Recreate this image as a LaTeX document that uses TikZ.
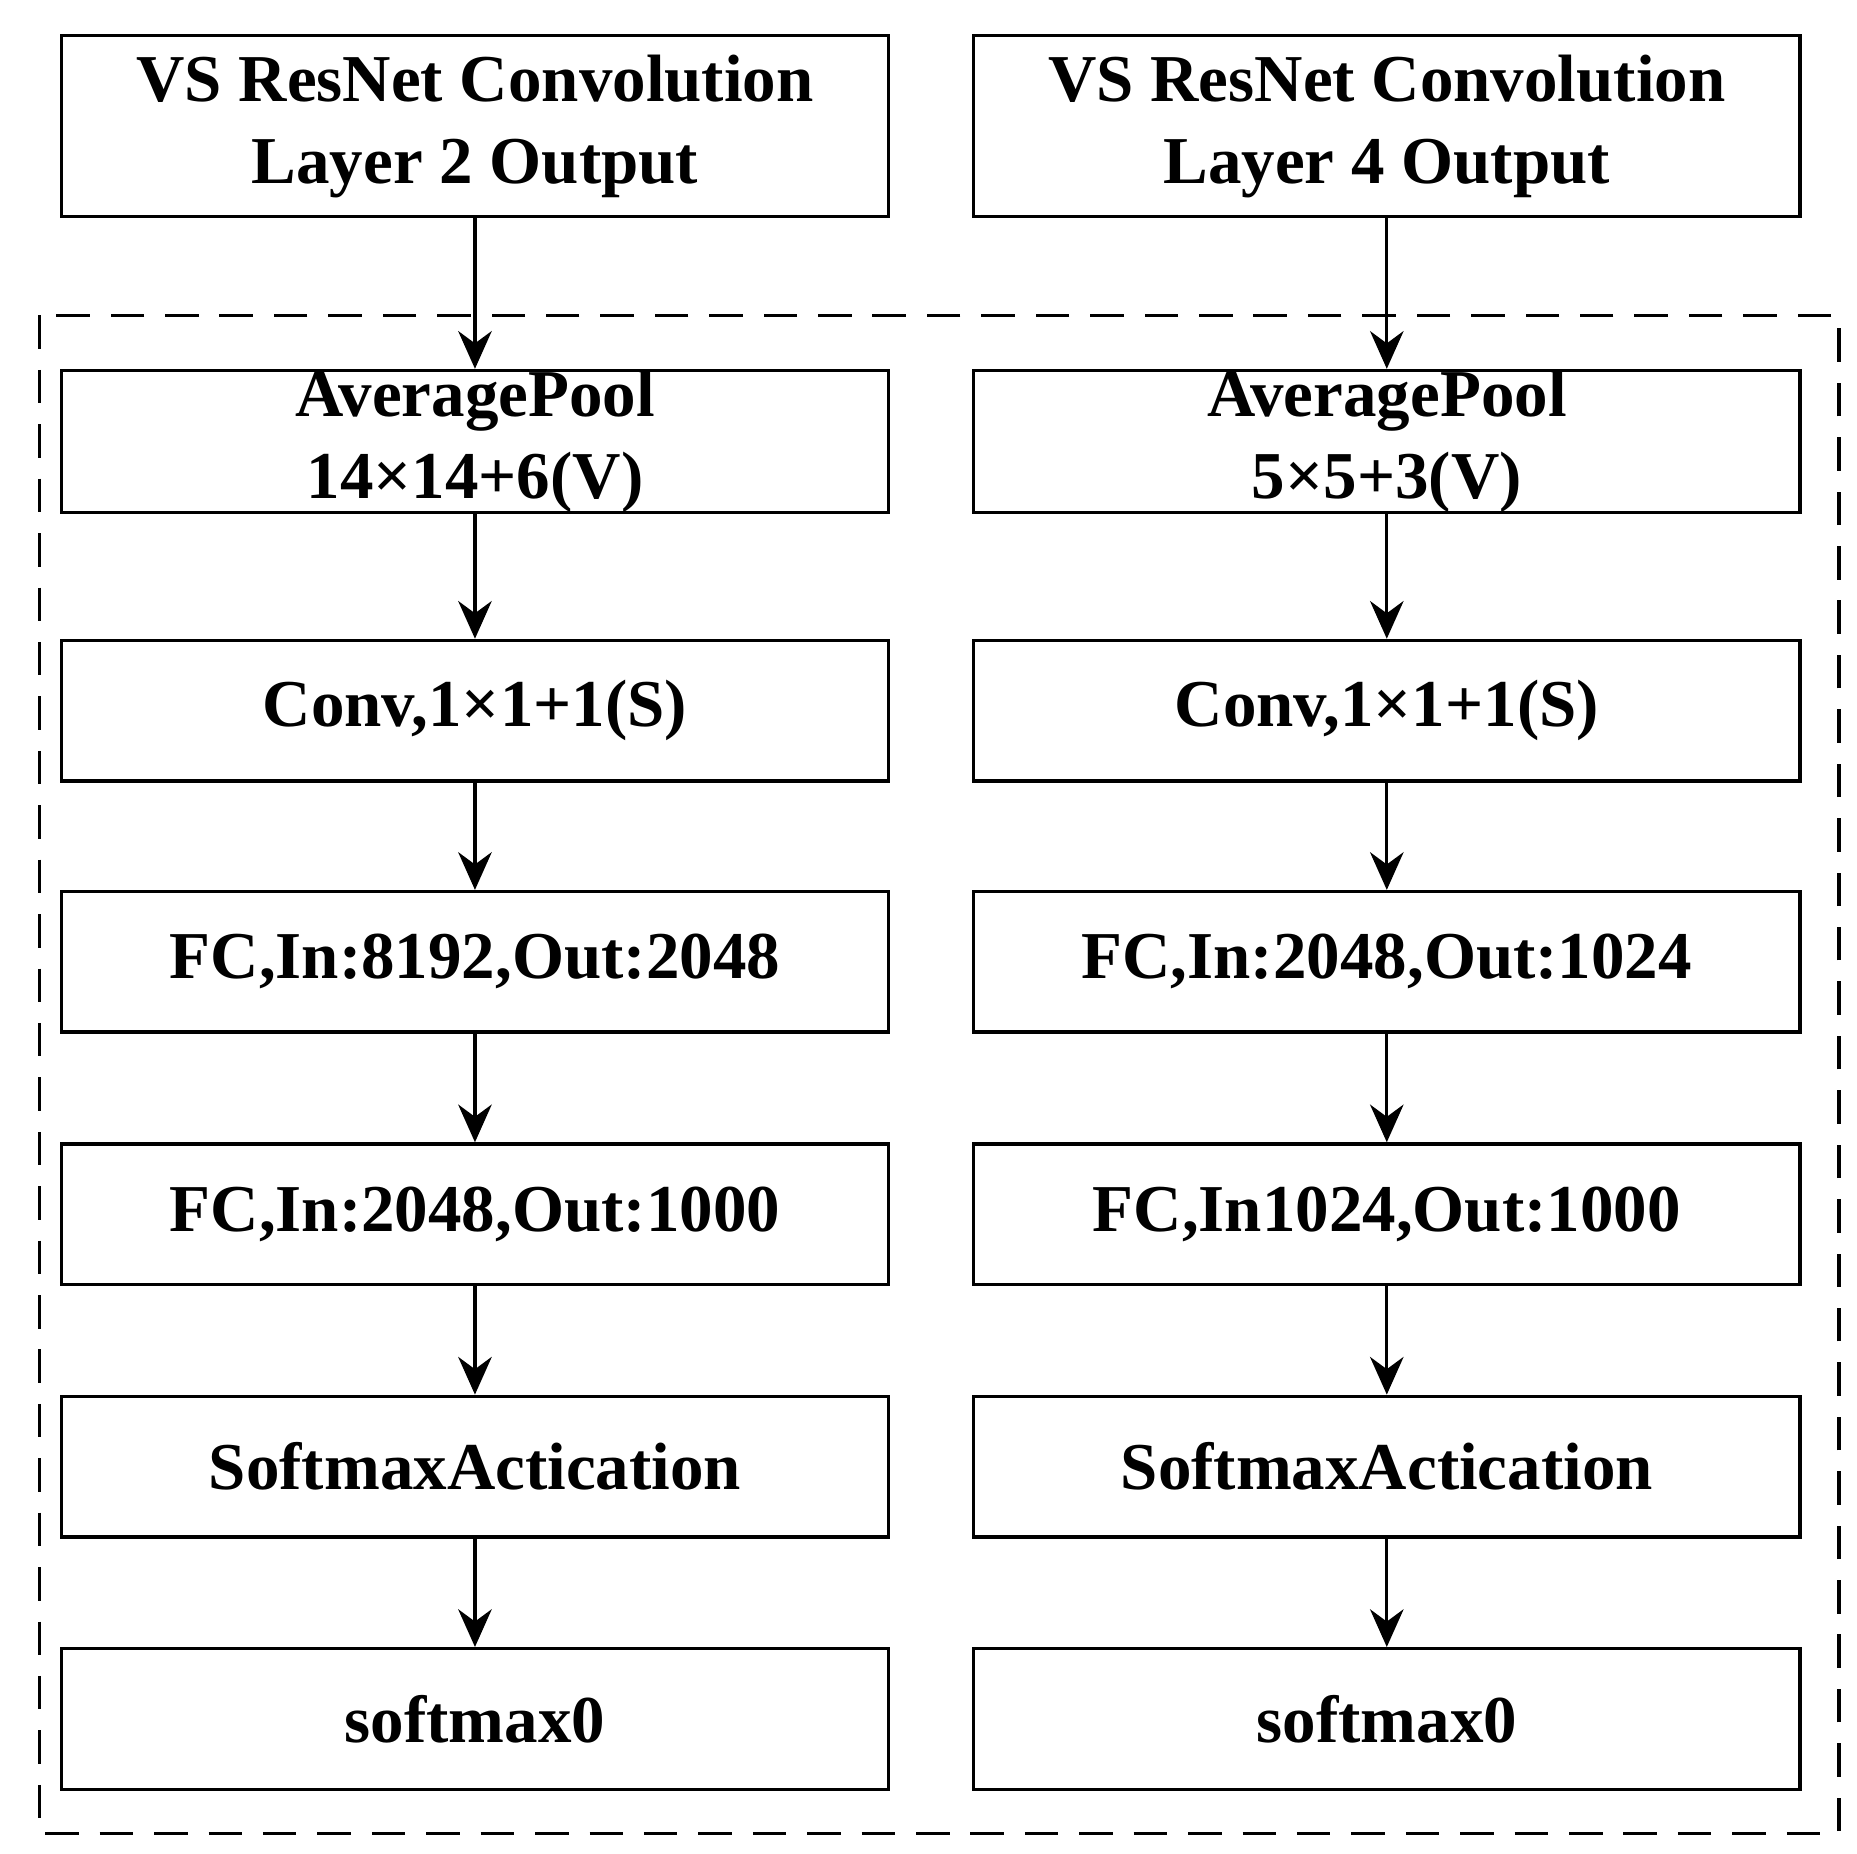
\documentclass[tikz,border=0pt]{standalone}
\usepackage{fontspec}
\setmainfont{Liberation Serif}
\usetikzlibrary{arrows.meta, positioning}
\tikzset{
  blk/.style={draw, thick, minimum width=6.94cm, minimum height=1.18cm, inner sep=0pt,
    align=center, font=\fontsize{16}{19.5}\selectfont\bfseries},
  topblk/.style={blk, minimum height=1.52cm},
  flow/.style={-{Stealth[length=9pt,width=8pt]}, thick}
}
\begin{document}
\begin{tikzpicture}[x=0.01cm, y=-0.01cm]
    \useasboundingbox (0,0) rectangle (1560,1557);

    % dashed frame
    \draw[thick, dash pattern=on 8pt off 5pt] (33,265) rectangle (1545,1540);

    % Left branch
    \node[topblk] (l0) at (399,106) {VS ResNet Convolution\\Layer 2 Output};
    \node[blk] (l1) at (399,371) {AveragePool\\14×14+6(V)};
    \node[blk] (l2) at (399,597) {Conv,1×1+1(S)};
    \node[blk] (l3) at (399,808) {FC,In:8192,Out:2048};
    \node[blk] (l4) at (399,1020) {FC,In:2048,Out:1000};
    \node[blk] (l5) at (399,1232) {SoftmaxActication};
    \node[blk] (l6) at (399,1444) {softmax0};

    % Right branch
    \node[topblk] (r0) at (1165,106) {VS ResNet Convolution\\Layer 4 Output};
    \node[blk] (r1) at (1165,371) {AveragePool\\5×5+3(V)};
    \node[blk] (r2) at (1165,597) {Conv,1×1+1(S)};
    \node[blk] (r3) at (1165,808) {FC,In:2048,Out:1024};
    \node[blk] (r4) at (1165,1020) {FC,In1024,Out:1000};
    \node[blk] (r5) at (1165,1232) {SoftmaxActication};
    \node[blk] (r6) at (1165,1444) {softmax0};

    % Arrows
    \foreach \a/\b in {0/1, 1/2, 2/3, 3/4, 4/5, 5/6} {
        \draw[flow] (l\a) -- (l\b);
        \draw[flow] (r\a) -- (r\b);
    }
\end{tikzpicture}
\end{document}
